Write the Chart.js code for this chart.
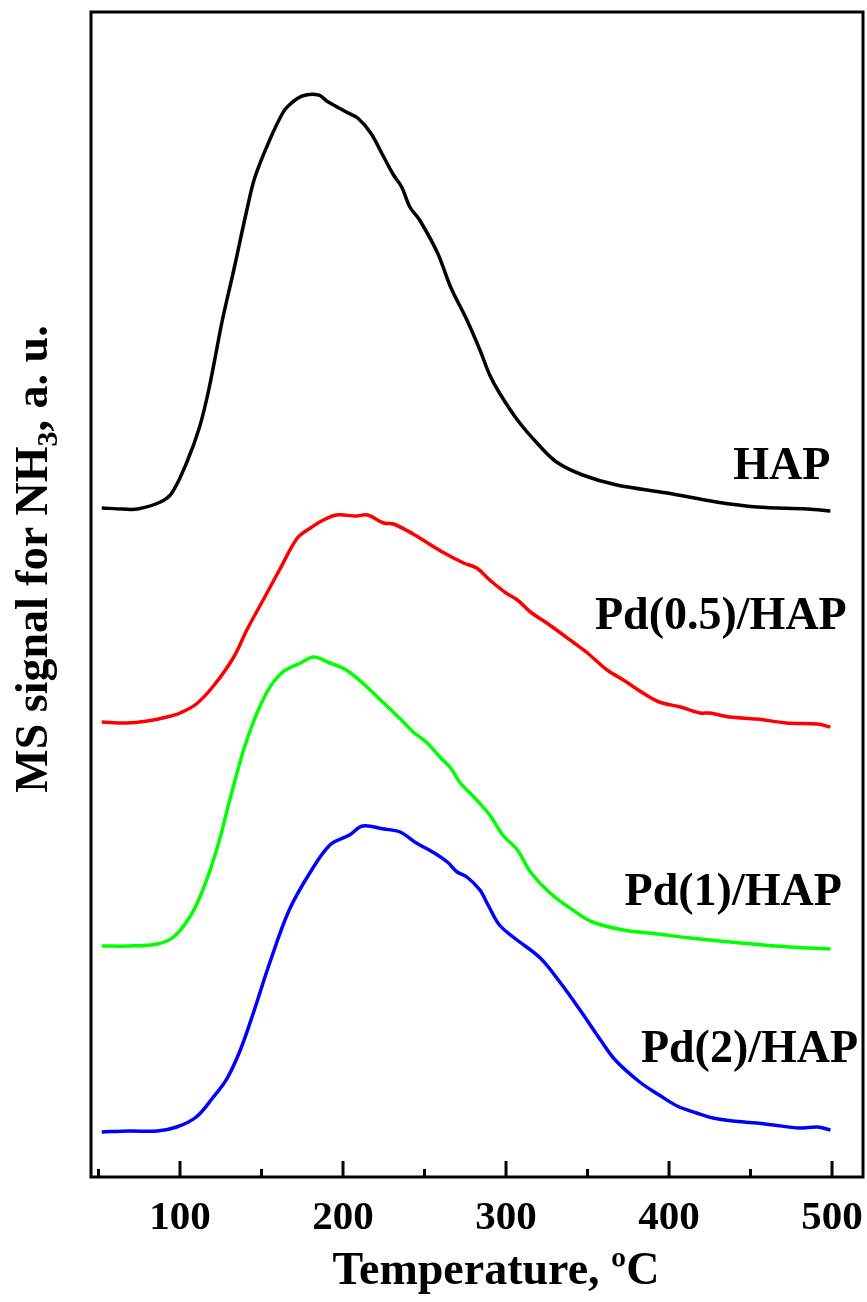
<!DOCTYPE html>
<html>
<head>
<meta charset="utf-8">
<script src="https://cdn.jsdelivr.net/npm/chart.js@4.4.0/dist/chart.umd.min.js"></script>
<style>
  html, body { margin: 0; padding: 0; background: #fff; }
  #wrap { width: 867px; height: 1302px; }
</style>
</head>
<body>
<div id="wrap"><canvas id="tpdChart" width="867" height="1302"></canvas></div>
<script>
// NH3-TPD profiles, values (a.u., stacked)

var hapT = [52, 65, 74, 88, 95, 104, 112, 118, 126, 133, 141, 146, 155, 163, 167, 175, 185, 190, 202, 209, 217, 225, 231, 236, 241, 247, 258, 266, 276, 284, 290, 296, 307, 319, 331, 347, 368, 399, 429, 454, 485, 499];
var hapY = [6.69, 6.68, 6.68, 6.75, 6.84, 7.14, 7.50, 7.90, 8.57, 9.07, 9.67, 10.00, 10.37, 10.64, 10.72, 10.81, 10.82, 10.76, 10.65, 10.59, 10.44, 10.20, 10.02, 9.90, 9.70, 9.57, 9.24, 8.90, 8.57, 8.27, 8.02, 7.84, 7.57, 7.34, 7.15, 7.02, 6.92, 6.84, 6.75, 6.70, 6.68, 6.66];

var pd05T = [52, 67, 80, 92, 100, 110, 121, 133, 141, 151, 161, 172, 180, 188, 196, 208, 215, 225, 231, 243, 251, 261, 274, 282, 290, 300, 307, 315, 325, 341, 350, 362, 372, 384, 394, 407, 419, 425, 437, 454, 472, 491, 499];
var pd05Y = [4.55, 4.54, 4.56, 4.60, 4.64, 4.73, 4.92, 5.20, 5.47, 5.77, 6.07, 6.39, 6.49, 6.57, 6.62, 6.61, 6.62, 6.54, 6.53, 6.43, 6.35, 6.25, 6.14, 6.09, 5.97, 5.84, 5.77, 5.65, 5.54, 5.35, 5.24, 5.07, 4.97, 4.84, 4.75, 4.70, 4.64, 4.64, 4.60, 4.58, 4.54, 4.53, 4.50];

var pd1T = [52, 69, 86, 96, 106, 114, 123, 131, 141, 153, 163, 174, 182, 192, 202, 212, 225, 237, 243, 251, 260, 266, 272, 282, 290, 298, 307, 315, 327, 341, 353, 372, 393, 413, 444, 474, 499];
var pd1Y = [2.31, 2.31, 2.33, 2.40, 2.60, 2.87, 3.30, 3.80, 4.37, 4.84, 5.05, 5.14, 5.20, 5.14, 5.07, 4.94, 4.74, 4.55, 4.45, 4.35, 4.19, 4.09, 3.94, 3.77, 3.62, 3.42, 3.27, 3.05, 2.84, 2.67, 2.55, 2.47, 2.43, 2.39, 2.34, 2.30, 2.28];

var pd2T = [52, 69, 86, 98, 110, 120, 129, 137, 145, 155, 167, 180, 192, 204, 212, 225, 235, 245, 255, 264, 270, 276, 284, 289, 296, 306, 321, 333, 345, 358, 367, 382, 394, 405, 417, 427, 439, 454, 464, 480, 491, 499];
var pd2Y = [0.45, 0.46, 0.46, 0.50, 0.60, 0.79, 0.99, 1.27, 1.64, 2.14, 2.67, 3.05, 3.32, 3.42, 3.51, 3.48, 3.45, 3.34, 3.25, 3.15, 3.05, 3.00, 2.87, 2.72, 2.52, 2.38, 2.19, 1.95, 1.68, 1.37, 1.17, 0.95, 0.82, 0.71, 0.64, 0.59, 0.56, 0.54, 0.52, 0.49, 0.50, 0.47];

var seriesNames = ['HAP', 'Pd(0.5)/HAP', 'Pd(1)/HAP', 'Pd(2)/HAP'];
var seriesColors = ['#000000', '#ff0000', '#00ff00', '#0000ff'];

// text anchors for the curve labels (right edge x in °C, middle y in a.u.)
var labelX = [499, 509, 506, 516];
var labelY = [7.10, 5.60, 2.84, 1.27];

var majorTicks = [100, 200, 300, 400, 500];
var minorTicks = [50, 150, 250, 350, 450];

var xTitle = 'Temperature, ºC';

var serif = "'Liberation Serif', 'Times New Roman', Times, serif";

function toPoints(xs, ys) {
    return xs.map(function(x, i) { return { x: x, y: ys[i] }; });
}

var allT = [hapT, pd05T, pd1T, pd2T];
var allY = [hapY, pd05Y, pd1Y, pd2Y];

var datasets = seriesNames.map(function(name, i) {
    return {
        label: name,
        data: toPoints(allT[i], allY[i]),
        borderColor: seriesColors[i],
        borderWidth: 3.5,
        pointRadius: 0,
        fill: false,
        tension: 0.35
    };
});

// frame, inward ticks, curve labels and axis titles
var decorPlugin = {
    id: 'decor',
    afterDraw: function(chart) {
        var ctx = chart.ctx;
        var area = chart.chartArea;
        var xs = chart.scales.x;
        var ys = chart.scales.y;

        ctx.save();
        ctx.strokeStyle = '#000';
        ctx.lineWidth = 3;
        ctx.strokeRect(area.left, area.top, area.right - area.left, area.bottom - area.top);

        majorTicks.forEach(function(v) {
            var px = xs.getPixelForValue(v);
            ctx.beginPath();
            ctx.moveTo(px, area.bottom);
            ctx.lineTo(px, area.bottom - 16);
            ctx.stroke();
        });
        minorTicks.forEach(function(v) {
            var px = xs.getPixelForValue(v);
            ctx.beginPath();
            ctx.moveTo(px, area.bottom);
            ctx.lineTo(px, area.bottom - 8);
            ctx.stroke();
        });

        // curve labels
        ctx.fillStyle = '#000';
        ctx.font = 'bold 46px ' + serif;
        ctx.textAlign = 'right';
        ctx.textBaseline = 'middle';
        seriesNames.forEach(function(name, i) {
            ctx.fillText(name, xs.getPixelForValue(labelX[i]), ys.getPixelForValue(labelY[i]));
        });

        // x title, a bit right of the frame centre as in the original
        ctx.textAlign = 'center';
        ctx.textBaseline = 'alphabetic';
        ctx.fillText(xTitle, 496, 1284);

        // y title: MS signal for NH3, a. u.
        var big = 'bold 46px ' + serif;
        var small = 'bold 30px ' + serif;
        var parts = [
            { t: 'MS signal for NH', f: big, dy: 0 },
            { t: '3', f: small, dy: 10 },
            { t: ', a. u.', f: big, dy: 0 }
        ];
        var total = 0;
        parts.forEach(function(p) {
            ctx.font = p.f;
            p.w = ctx.measureText(p.t).width;
            total += p.w;
        });
        ctx.translate(47, 559);
        ctx.rotate(-Math.PI / 2);
        ctx.textAlign = 'left';
        var cx = -total / 2;
        parts.forEach(function(p) {
            ctx.font = p.f;
            ctx.fillText(p.t, cx, p.dy);
            cx += p.w;
        });
        ctx.restore();
    }
};

new Chart(document.getElementById('tpdChart').getContext('2d'), {
    type: 'line',
    data: { datasets: datasets },
    options: {
        responsive: false,
        animation: false,
        devicePixelRatio: 1,
        layout: { padding: { left: 91, right: 4, top: 12, bottom: 0 } },
        plugins: {
            legend: { display: false },
            tooltip: { enabled: false }
        },
        scales: {
            x: {
                type: 'linear',
                min: 45.4,
                max: 519,
                grid: { display: false, drawTicks: false },
                border: { display: false },
                afterBuildTicks: function(scale) {
                    scale.ticks = majorTicks.map(function(v) { return { value: v }; });
                },
                afterFit: function(scale) {
                    scale.height = 125;
                    scale.paddingLeft = 0;
                    scale.paddingRight = 0;
                },
                ticks: {
                    color: '#000',
                    padding: 17,
                    maxRotation: 0,
                    font: { family: serif, size: 41, weight: 'bold' }
                },
                title: { display: false }
            },
            y: {
                display: false,
                min: 0,
                max: 11.65
            }
        }
    },
    plugins: [decorPlugin]
});
</script>
</body>
</html>
